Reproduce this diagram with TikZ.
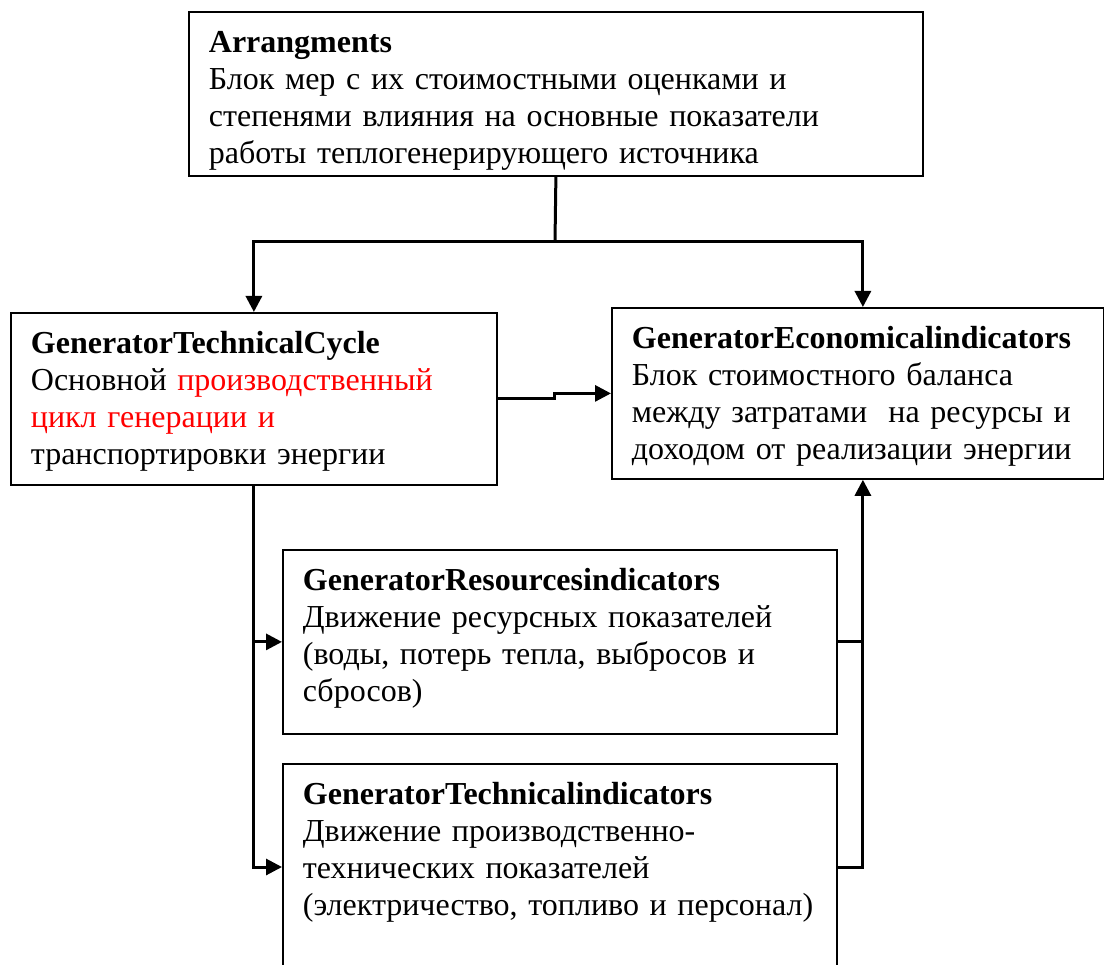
\documentclass[tikz,border=0pt]{standalone}
\usepackage{fontspec}
\setmainfont{Liberation Serif}
\usepackage{tikz}
\usetikzlibrary{arrows.meta,positioning,calc}
\definecolor{hotred}{HTML}{FF0000}
\newcommand{\topgap}[1]{\rule{0pt}{#1}}

\begin{document}
\begin{tikzpicture}[x=1pt,y=-1pt,
  block/.style={draw, line width=1.8pt, anchor=north west, align=left,
    inner xsep=20pt, inner ysep=12pt, font=\fontsize{32}{37}\selectfont},
  conn/.style={line width=3pt, -{Triangle[length=16pt,width=16pt]}},
  link/.style={line width=3pt}]
  \useasboundingbox (0,0) rectangle (1104,965);

  % blocks
  \node[block, text width=694pt, minimum height=164pt, inner ysep=5pt] (arr) at (188,11)
    {\topgap{36pt}\textbf{Arrangments}\\
     Блок мер с их стоимостными оценками и\\
     степенями влияния на основные показатели\\
     работы теплогенерирующего источника};
  \node[block, text width=446pt, minimum height=172pt] (cyc) at (10,312)
    {\topgap{28pt}\textbf{GeneratorTechnicalCycle}\\
     Основной \textcolor{hotred}{производственный}\\
     \textcolor{hotred}{цикл генерации и}\\
     транспортировки энергии};
  \node[block, text width=452pt, minimum height=171pt] (econ) at (611,307)
    {\topgap{28pt}\textbf{GeneratorEconomicalindicators}\\
     Блок стоимостного баланса\\
     между затратами~ на ресурсы и\\
     доходом от реализации энергии};
  \node[block, text width=514pt, minimum height=184pt] (res) at (282,549)
    {\textbf{GeneratorResourcesindicators}\\
     Движение ресурсных показателей\\
     (воды, потерь тепла, выбросов и\\
     сбросов)\rule[-14pt]{0pt}{0pt}};
  \node[block, text width=514pt, inner ysep=18pt] (tec) at (282,763)
    {\textbf{GeneratorTechnicalindicators}\\
     Движение производственно-\\
     технических показателей\\
     (электричество, топливо и персонал)\\
     \mbox{}};

  % connectors
  \coordinate (split) at (555,242);
  \coordinate (intop) at ([xshift=5pt]econ.north);
  \coordinate (inbot) at ([xshift=5pt]econ.south);
  \draw[link] (arr.south) -- (split);
  \draw[conn] (split) -| (cyc.north);
  \draw[conn] (split) -| (intop);
  \draw[conn] (cyc.east) -- ++(57,0) |- (econ.west);
  \draw[conn] (cyc.south) |- (res.west);
  \draw[conn] (cyc.south) |- (tec.west);
  \draw[link] (res.east) -- (res.east -| inbot);
  \draw[conn] (tec.east) -| (inbot);
\end{tikzpicture}
\end{document}
